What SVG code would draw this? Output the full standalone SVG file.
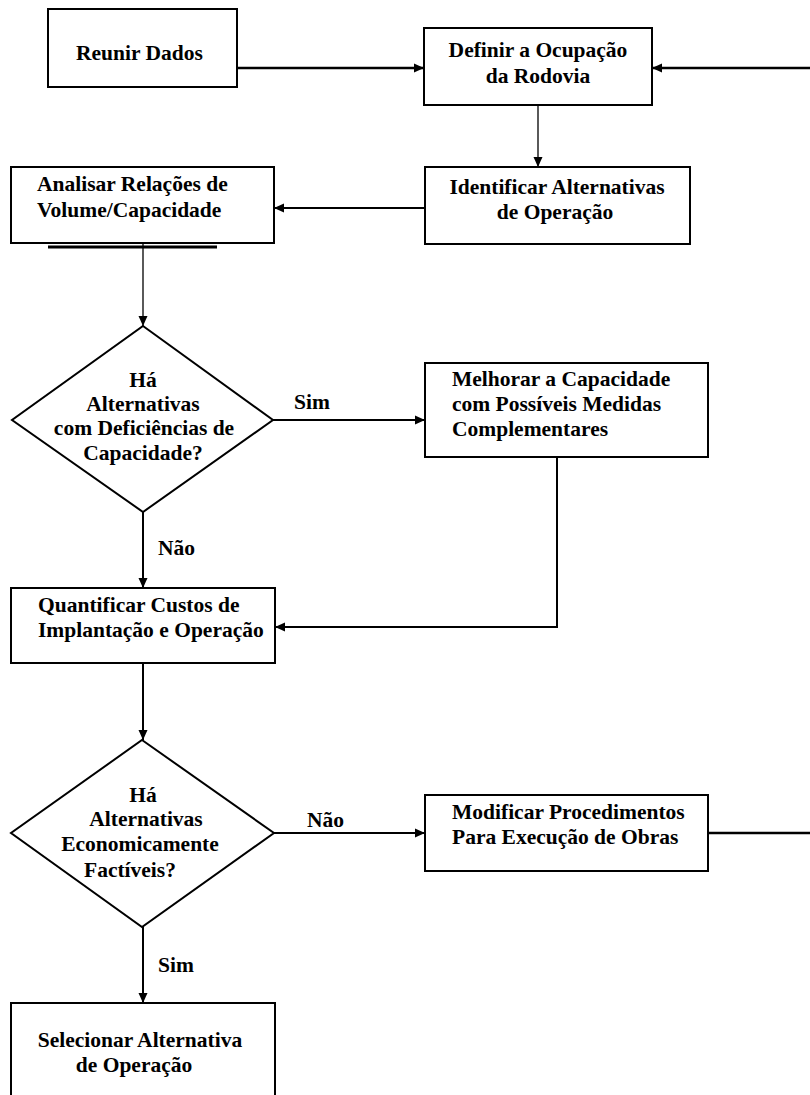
<svg xmlns="http://www.w3.org/2000/svg" width="810" height="1095" viewBox="0 0 810 1095">
<style>
.box{fill:#fff;stroke:#000;stroke-width:2}
.t{font-family:"Liberation Serif","Times New Roman",serif;font-weight:bold;font-size:21.5px;fill:#000}
.c{text-anchor:middle}
.ln{fill:none;stroke:#000;stroke-width:2}
.thin{fill:none;stroke:#000;stroke-width:1.3}
</style>
<defs>
<marker id="ah" markerUnits="userSpaceOnUse" markerWidth="10" markerHeight="10" refX="10" refY="5" orient="auto">
<path d="M0,0.5 L10,5 L0,9.5 z" fill="#000"/>
</marker>
</defs>
<rect width="810" height="1095" fill="#fff"/>
<g id="connectors">
<line class="ln" x1="237" y1="68" x2="424" y2="68" marker-end="url(#ah)" style="stroke-width:2.5"/>
<line class="ln" x1="810" y1="68" x2="652" y2="68" marker-end="url(#ah)" style="stroke-width:2.5"/>
<line class="thin" x1="538" y1="105" x2="538" y2="167" marker-end="url(#ah)"/>
<line class="ln" x1="425" y1="208" x2="274" y2="208" marker-end="url(#ah)"/>
<line class="thin" x1="143" y1="243" x2="143" y2="326" marker-end="url(#ah)"/>
<line class="ln" x1="273" y1="420" x2="425" y2="420" marker-end="url(#ah)"/>
<line class="ln" x1="143" y1="512" x2="143" y2="588" marker-end="url(#ah)"/>
<polyline class="ln" points="557,457 557,627 275,627" marker-end="url(#ah)"/>
<line class="ln" x1="143" y1="663" x2="143" y2="740" marker-end="url(#ah)"/>
<line class="ln" x1="274" y1="833" x2="425" y2="833" marker-end="url(#ah)"/>
<line class="ln" x1="708" y1="833" x2="810" y2="833" style="stroke-width:2.5"/>
<line class="ln" x1="143" y1="927" x2="143" y2="1003" marker-end="url(#ah)"/>
<text class="t" x="294" y="409">Sim</text>
<text class="t" x="158" y="555">Não</text>
<text class="t" x="307" y="827">Não</text>
<text class="t" x="158" y="972">Sim</text>
</g>
<g id="reunir">
<rect class="box" x="48" y="9" width="189" height="78"/>
<text class="t" x="76" y="60">Reunir Dados</text>
</g>
<g id="definir">
<rect class="box" x="424" y="28" width="228" height="77"/>
<text class="t c" x="538" y="57">Definir a Ocupação</text>
<text class="t c" x="538" y="83">da Rodovia</text>
</g>
<g id="identificar">
<rect class="box" x="425" y="167" width="265" height="77"/>
<text class="t c" x="557" y="194">Identificar Alternativas</text>
<text class="t c" x="555" y="219">de Operação</text>
</g>
<g id="analisar">
<rect class="box" x="11" y="167" width="263" height="76"/>
<text class="t" x="37" y="191">Analisar Relações de</text>
<text class="t" x="37" y="217">Volume/Capacidade</text>
<line x1="48" y1="247" x2="217" y2="247" stroke="#000" stroke-width="3"/>
</g>
<g id="decisao1">
<polygon class="box" points="143,326 273,420 143,512 12,420"/>
<text class="t c" x="143" y="387">Há</text>
<text class="t c" x="143" y="411">Alternativas</text>
<text class="t c" x="144" y="435">com Deficiências de</text>
<text class="t c" x="143" y="460">Capacidade?</text>
</g>
<g id="melhorar">
<rect class="box" x="425" y="363" width="283" height="94"/>
<text class="t" x="452" y="386">Melhorar a Capacidade</text>
<text class="t" x="452" y="411">com Possíveis Medidas</text>
<text class="t" x="452" y="436">Complementares</text>
</g>
<g id="quantificar">
<rect class="box" x="11" y="588" width="264" height="75"/>
<text class="t" x="38" y="612">Quantificar Custos de</text>
<text class="t" x="38" y="637">Implantação e Operação</text>
</g>
<g id="decisao2">
<polygon class="box" points="142,740 274,833 142,927 11,833"/>
<text class="t c" x="143" y="802">Há</text>
<text class="t c" x="146" y="826">Alternativas</text>
<text class="t c" x="140" y="851">Economicamente</text>
<text class="t c" x="130" y="877">Factíveis?</text>
</g>
<g id="modificar">
<rect class="box" x="425" y="795" width="283" height="76"/>
<text class="t" x="452" y="819">Modificar Procedimentos</text>
<text class="t" x="452" y="844">Para Execução de Obras</text>
</g>
<g id="selecionar">
<rect class="box" x="11" y="1003" width="264" height="100"/>
<text class="t c" x="140" y="1047">Selecionar Alternativa</text>
<text class="t c" x="134" y="1072">de Operação</text>
</g>
</svg>
